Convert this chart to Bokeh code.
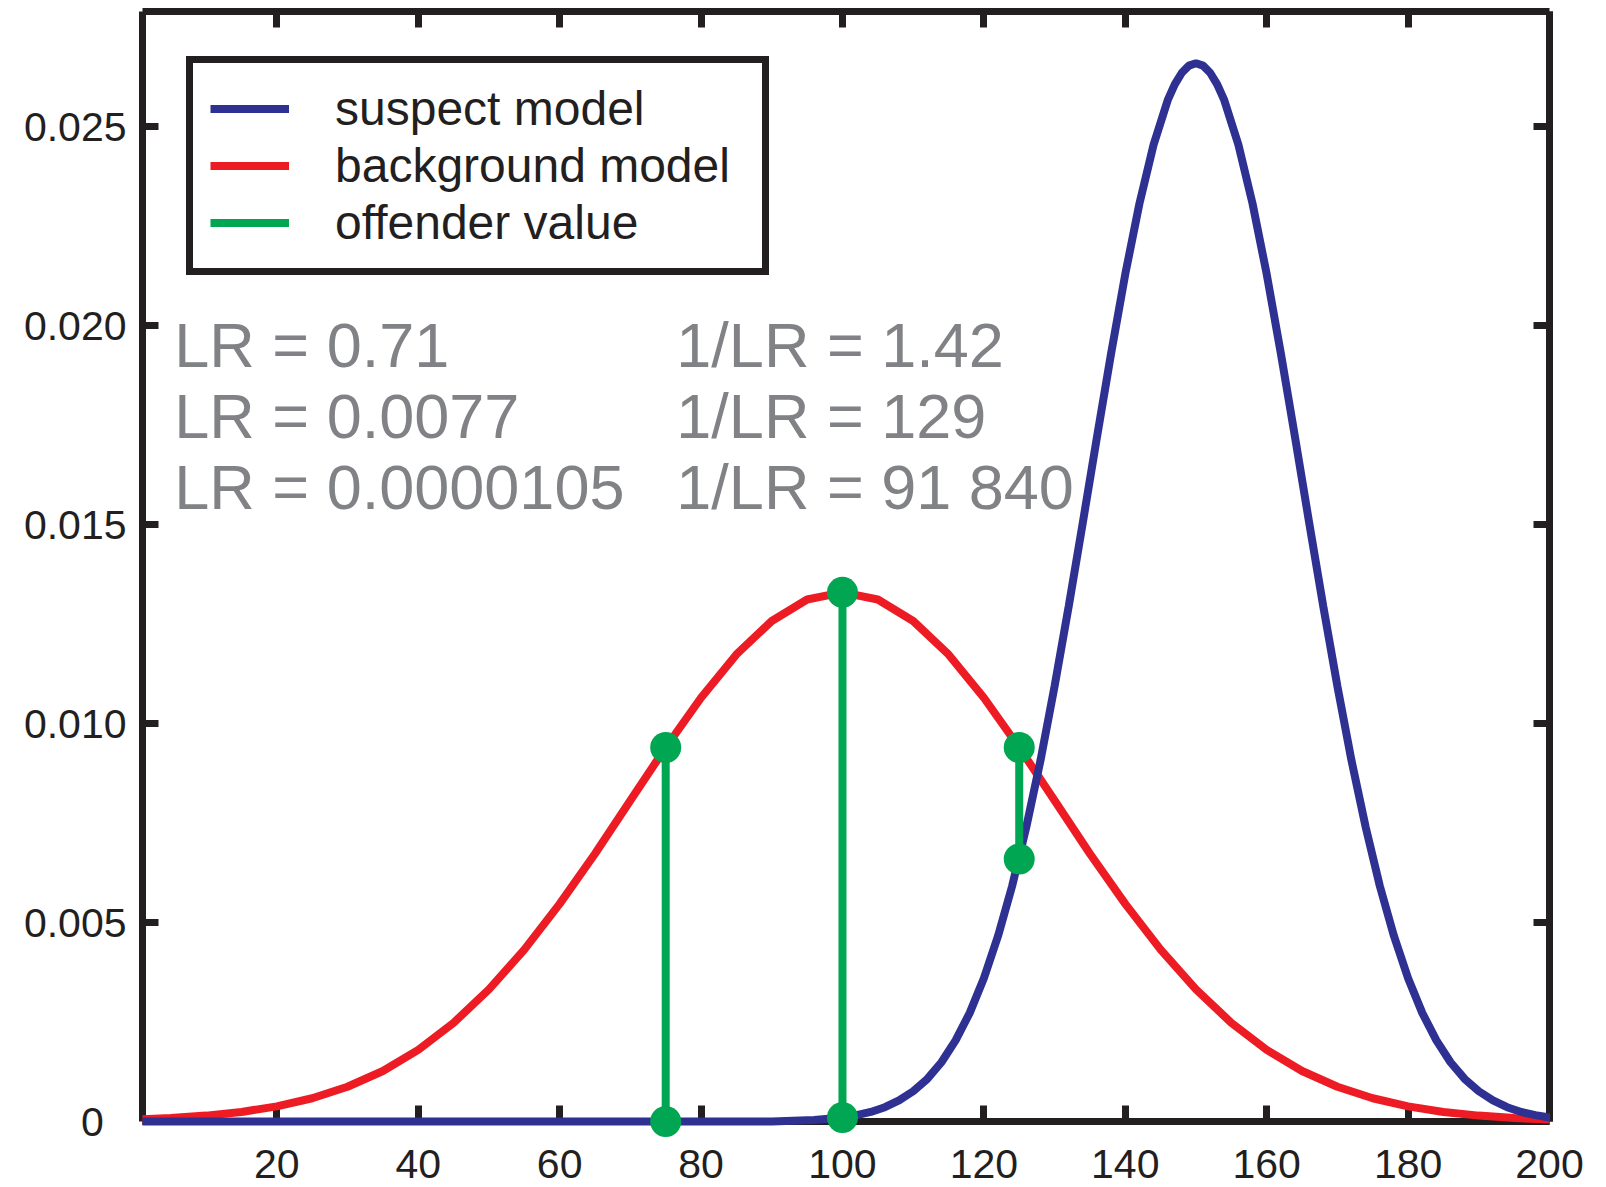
from bokeh.plotting import figure
from bokeh.models import Range1d, LinearAxis, FixedTicker, Legend, LegendItem, ColumnDataSource
from bokeh.embed import file_html
from bokeh.resources import INLINE
from bokeh.core.properties import value

# ---------------- data ----------------
x_ticks = [20, 40, 60, 80, 100, 120, 140, 160, 180, 200]
x_tick_labels = ["20", "40", "60", "80", "100", "120", "140", "160", "180", "200"]
y_ticks = [0, 0.005, 0.010, 0.015, 0.020, 0.025]
y_tick_labels = ["0\u00a0\u00a0", "0.005", "0.010", "0.015", "0.020", "0.025"]

# background model (red)
bg_x = [1, 5, 10, 15, 20, 25, 30, 35, 40, 45, 50, 55, 60, 65, 70, 75, 80, 85, 90, 95, 100,
        105, 110, 115, 120, 125, 130, 135, 140, 145, 150, 155, 160, 165, 170, 175, 180, 185, 190, 195, 200]
bg_y = [0.000057, 0.000088, 0.000148, 0.000240, 0.000380, 0.000584, 0.000874, 0.00127, 0.00180,
        0.00248, 0.00332, 0.00432, 0.00547, 0.00673, 0.00807, 0.00940, 0.01065, 0.01174, 0.01258,
        0.01312, 0.01330, 0.01312, 0.01258, 0.01174, 0.01065, 0.00940, 0.00807, 0.00673, 0.00547,
        0.00432, 0.00332, 0.00248, 0.00180, 0.00127, 0.000874, 0.000584, 0.000380, 0.000240,
        0.000148, 0.000088, 0.000051]

# suspect model (blue)
sus_x = [1, 25, 50, 75, 90, 96, 100, 102, 104, 106, 108, 110, 112, 114, 116, 118, 120, 122, 124,
         126, 128, 130, 132, 134, 136, 138, 140, 142, 144, 146, 147, 148, 149, 150, 151, 152, 153,
         154, 156, 158, 160, 162, 164, 166, 168, 170, 172, 174, 176, 178, 180, 182, 184, 186, 188,
         190, 192, 194, 196, 198, 200]
sus_y = [0.0, 0.0, 0.0, 0.0, 0.0, 0.00004, 0.00010, 0.00016, 0.00024, 0.00036, 0.00053, 0.00076,
         0.00107, 0.00149, 0.00204, 0.00273, 0.00360, 0.00466, 0.00592, 0.00740, 0.00907, 0.01094,
         0.01295, 0.01506, 0.01721, 0.01931, 0.02130, 0.02307, 0.02455, 0.02567, 0.02607, 0.02636,
         0.02654, 0.02660, 0.02654, 0.02636, 0.02607, 0.02567, 0.02455, 0.02307, 0.02130, 0.01931,
         0.01721, 0.01506, 0.01295, 0.01094, 0.00907, 0.00740, 0.00592, 0.00466, 0.00360, 0.00273,
         0.00204, 0.00149, 0.00107, 0.00076, 0.00053, 0.00036, 0.00024, 0.00016, 0.00010]

# offender values (green): suspect density -> background density
off_x = [75, 100, 125]
off_low = [0.0000, 0.0001, 0.0066]
off_high = [0.0094, 0.0133, 0.0094]

lr_texts = ["LR = 0.71", "LR = 0.0077", "LR = 0.0000105"]
inv_lr_texts = ["1/LR = 1.42", "1/LR = 129", "1/LR = 91 840"]

legend_labels = ["suspect model", "background model", "offender value"]

# ---------------- style ----------------
BLUE = "#2E3192"
RED = "#ED1C24"
GREEN = "#00A651"
INK = "#231F20"
GREY = "#808285"
FONT = "Liberation Sans"

p = figure(width=1606, height=1187,
           x_range=Range1d(1, 200), y_range=Range1d(0, 0.0279),
           output_backend="svg", toolbar_location=None,
           min_border_left=142, min_border_right=57, min_border_top=11, min_border_bottom=66)
p.xgrid.visible = False
p.ygrid.visible = False
p.outline_line_color = None
p.background_fill_color = "white"
p.border_fill_color = "white"


def style_axis(ax, ticks, labels, show):
    ax.ticker = FixedTicker(ticks=ticks)
    ax.axis_line_width = 7
    ax.axis_line_color = INK
    ax.major_tick_line_width = 7
    ax.major_tick_line_color = INK
    ax.major_tick_in = 16
    ax.major_tick_out = 0
    ax.minor_tick_line_color = None
    if show:
        ax.major_label_overrides = {t: l for t, l in zip(ticks, labels)}
        ax.major_label_text_font = FONT
        ax.major_label_text_font_size = "41px"
        ax.major_label_text_color = INK
    else:
        ax.major_label_overrides = {t: "" for t in ticks}
        ax.major_label_text_font_size = "0px"
        ax.major_label_standoff = 0


xb = p.xaxis[0]
yl = p.yaxis[0]
style_axis(xb, x_ticks, x_tick_labels, True)
xb.major_label_standoff = 28
style_axis(yl, y_ticks, y_tick_labels, True)
yl.major_label_standoff = 16

xt = LinearAxis()
style_axis(xt, x_ticks, x_tick_labels, False)
p.add_layout(xt, "above")
yr = LinearAxis()
style_axis(yr, y_ticks, y_tick_labels, False)
p.add_layout(yr, "right")

# ---------------- glyphs ----------------
bg_r = p.line(bg_x, bg_y, line_color=RED, line_width=8, level="annotation")
sus_r = p.line(sus_x, sus_y, line_color=BLUE, line_width=8, level="annotation")
off_r = p.segment(x0=off_x, y0=off_low, x1=off_x, y1=off_high,
                  line_color=GREEN, line_width=8, level="annotation")
p.scatter(x=off_x + off_x, y=off_low + off_high, size=31, marker="circle",
          fill_color=GREEN, line_color=None, level="annotation")

# LR annotation text (positions are layout only)
text_rows_y = [0.019523, 0.017726, 0.015942]
col1_x = [5.5] * 3
col2_x = [76.5] * 3
txt_src = ColumnDataSource(dict(x=col1_x + col2_x, y=text_rows_y + text_rows_y,
                                t=lr_texts + inv_lr_texts))
p.text(x="x", y="y", text="t", source=txt_src, text_font=value(FONT),
       text_font_size="63px", text_color=GREY, text_baseline="alphabetic", text_align="left")

legend = Legend(items=[LegendItem(label=legend_labels[0], renderers=[sus_r]),
                       LegendItem(label=legend_labels[1], renderers=[bg_r]),
                       LegendItem(label=legend_labels[2], renderers=[off_r])],
                location=(44, 846), margin=0, padding=17, spacing=0,
                glyph_width=79, glyph_height=57, label_height=57, label_width=410,
                label_standoff=46,
                label_text_font=FONT, label_text_font_size="48px", label_text_color=INK,
                label_text_line_height=1.0,
                border_line_color=INK, border_line_width=7, border_line_alpha=1,
                background_fill_color="white", background_fill_alpha=1)
p.add_layout(legend)

open("out.html", "w").write(file_html(p, INLINE))
